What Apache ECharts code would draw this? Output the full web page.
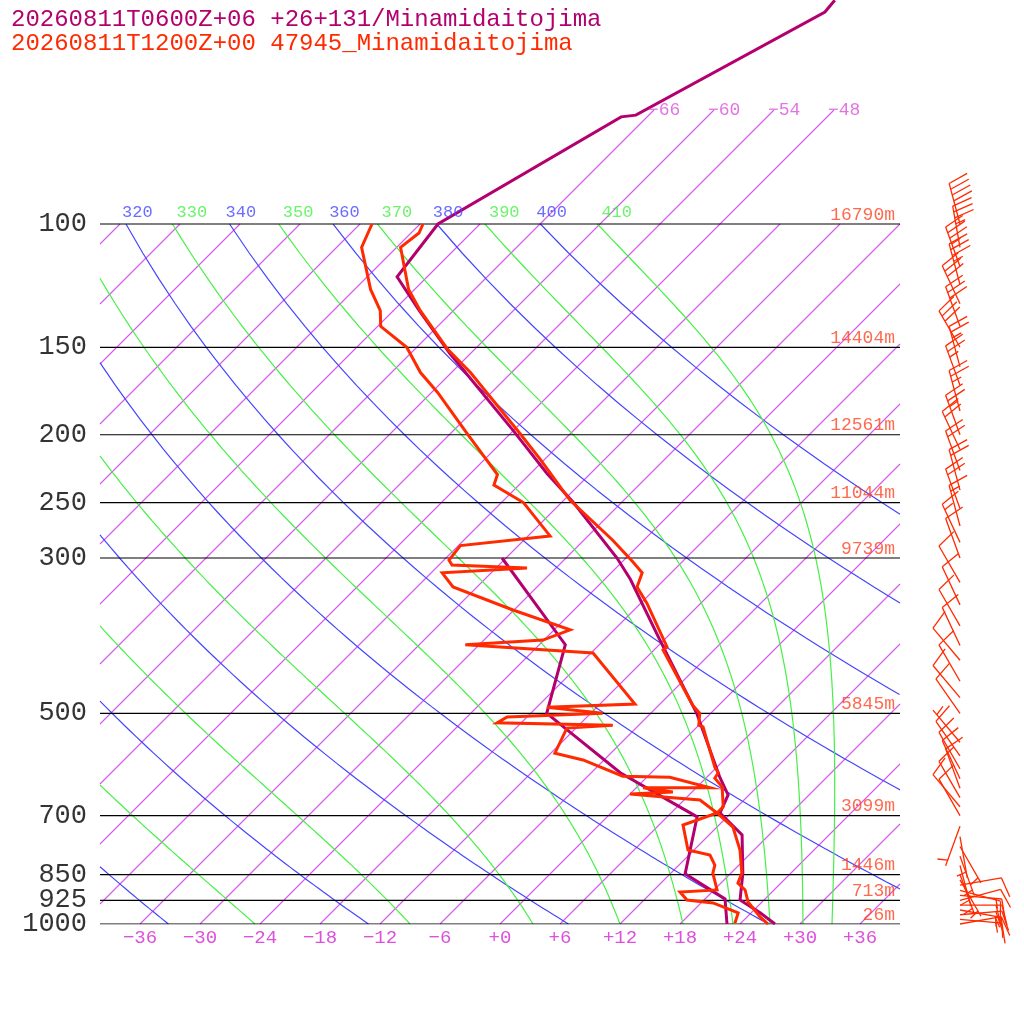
<!DOCTYPE html>
<html>
<head>
<meta charset="utf-8">
<script src="https://cdn.jsdelivr.net/npm/echarts@6/dist/echarts.min.js"></script>
<style>html,body{margin:0;padding:0;background:#fff}#main{width:1024px;height:1024px}</style>
</head>
<body>
<div id="main"></div>
<script>
// sounding 1 (magenta): pressure hPa / temperature C
var magT_p = [47.9, 49.8, 69.9, 70.3, 100, 119, 133, 153, 197, 227, 250, 300, 322, 393, 500, 617, 654, 694, 746, 846, 924, 964, 1000]
var magT_t = [-58.9, -58.7, -67.3, -68.6, -76.2, -75.0, -69.4, -62.1, -48.1, -40.4, -34.8, -24.9, -21.4, -12.4, -1.4, 7.3, 9.9, 10.9, 15.3, 19.2, 21.6, 24.9, 27.5]
var magD_p = [300, 399, 500, 528, 608, 703, 848, 921, 1000]
var magD_t = [-36.4, -21.4, -16.4, -12.7, -3.1, 9.0, 13.5, 20.0, 22.7]
// sounding 2 (red)
var redT_p = [100, 103, 108, 124, 133, 151, 163, 199, 217, 248, 283, 304, 315, 330, 348, 402, 406, 487, 500, 520, 523, 597, 608, 619, 637, 680, 694, 727, 784, 846, 874, 894, 930, 977, 1000]
var redT_t = [-77.7, -77.2, -77.6, -72.6, -69.3, -62.7, -58.1, -47.1, -42.4, -35.4, -27.1, -22.9, -20.9, -20.0, -17.4, -11.0, -11.1, -2.6, -1.1, 0, 0.6, 5.8, 6.7, 6.9, 8.5, 10.6, 10.6, 13.6, 16.6, 19.1, 19.7, 21.1, 22.6, 25.3, 26.8]
var redD_p = [100, 108, 124, 133, 140, 150, 163, 174, 199, 228, 236, 250, 279, 288, 302, 307, 310, 315, 330, 356, 380, 393, 399, 410, 485, 490, 500, 506, 516, 520, 525, 570, 583, 615, 617, 639, 639, 648, 652, 659, 665, 694, 722, 784, 797, 824, 846, 894, 900, 924, 933, 964, 997]
var redD_t = [-82.8, -81.5, -76.4, -73.3, -71.7, -67.0, -63.1, -59.4, -52.4, -45.2, -44.5, -39.8, -33.8, -41.8, -41.5, -40.7, -32.9, -40.9, -38.4, -30.1, -22.4, -24.1, -31.4, -17.8, -8.5, -17.0, -10.8, -20.0, -20.4, -8.6, -12.9, -11.6, -8.1, -2.5, 2.3, 7.4, 0.7, 4.1, 0, 4.0, 7.6, 10.6, 8.4, 11.4, 14.1, 15.6, 16.2, 18.3, 14.8, 16.3, 19.2, 22.7, 23.4]
// winds (red sounding)
var windP = [1000, 985, 970, 955, 940, 925, 910, 895, 880, 865, 850, 825, 800, 775, 750, 725, 700, 680, 660, 640, 620, 600, 575, 550, 500, 475, 450, 420, 400, 375, 350, 325, 300, 285, 270, 255, 240, 225, 210, 200, 185, 170, 160, 150, 140, 130, 122, 115, 108, 100]
var windDir = [80, 95, 85, 100, 90, 75, 95, 105, 80, 150, 160, 165, 160, 150, 170, 200, 330, 320, 330, 340, 335, 330, 325, 320, 325, 320, 330, 320, 335, 330, 335, 330, 340, 335, 345, 340, 345, 340, 335, 340, 345, 340, 345, 330, 340, 335, 345, 340, 350, 345]
var windSpd = [15, 15, 20, 15, 20, 12, 15, 10, 10, 8, 8, 6, 5, 6, 8, 6, 10, 12, 12, 14, 12, 10, 10, 8, 10, 12, 10, 10, 10, 12, 14, 10, 10, 15, 15, 20, 20, 20, 20, 25, 25, 25, 25, 30, 30, 30, 35, 35, 35, 40]
// axes labels
var pLevels = [100, 150, 200, 250, 300, 500, 700, 850, 925, 1000]
var heights = ['16790m', '14404m', '12561m', '11044m', '9739m', '5845m', '3099m', '1446m', '713m', '26m']
var tempTicks = [-36, -30, -24, -18, -12, -6, 0, 6, 12, 18, 24, 30, 36]
var isoT = [-114, -108, -102, -96, -90, -84, -78, -72, -66, -60, -54, -48, -42, -36, -30, -24, -18, -12, -6, 0, 6, 12, 18, 24, 30, 36]
var topIso = [-66, -60, -54, -48]
var dryTheta = [220, 240, 260, 280, 300, 320, 340, 360, 380, 400]
var dryLabels = [320, 340, 360, 380, 400]
var moistBaseT = [-24.5, -9, 3.3, 12, 18.3, 23.3, 27, 30.3, 33.2]   // at 1000 hPa
var moistTheta = [250, 270, 290, 310, 330, 350, 370, 390, 410]
var moistLabels = [330, 350, 370, 390, 410]

var SK = 30.4
var PMIN = 1000 * Math.exp(-924 / 304)
var MONO = 'Liberation Mono'
var BLUE = '#4646ff', GREEN = '#46f046', ISO = '#d458ec', MAG = '#b4006e', RED = '#ff2a00'

function L(p) { return SK * Math.log(1000 / p) }
function P(l) { return 1000 * Math.exp(-l / SK) }
function pts(ps, ts) { return ps.map(function(p, i) { return [ts[i] + L(p), p] }) }

// keep the parts of a polyline (X, l) inside the box, splitting where it leaves
function clip(line, x0, x1, l1) {
  var out = [], cur = []
  function inside(q) { return q[0] >= x0 && q[0] <= x1 && q[1] >= 0 && q[1] <= l1 }
  function edge(a, b) {
    var u = 0
    if (a[0] < x0) u = Math.max(u, (x0 - a[0]) / (b[0] - a[0]))
    if (a[0] > x1) u = Math.max(u, (a[0] - x1) / (a[0] - b[0]))
    if (a[1] < 0) u = Math.max(u, (0 - a[1]) / (b[1] - a[1]))
    if (a[1] > l1) u = Math.max(u, (a[1] - l1) / (a[1] - b[1]))
    return [a[0] + u * (b[0] - a[0]), a[1] + u * (b[1] - a[1])]
  }
  for (var i = 0; i < line.length; i++) {
    if (inside(line[i])) {
      if (!cur.length && i > 0) cur.push(edge(line[i - 1], line[i]))
      cur.push(line[i])
    } else if (cur.length) {
      cur.push(edge(line[i], line[i - 1])); out.push(cur); cur = []
    }
  }
  if (cur.length) out.push(cur)
  return out.map(function(seg) { return seg.map(function(q) { return [q[0], P(q[1])] }) })
}

function guide(data, color, w) {
  return { type: 'line', data: data, symbol: 'none', animation: false,
    itemStyle: { color: color }, lineStyle: { color: color, width: w || 1 }, z: 1 }
}

var series = []

// isotherms (45 degree lines)
isoT.forEach(function(t) {
  var lTop = topIso.indexOf(t) >= 0 ? 81.4 : 70
  var lA = Math.max(0, -40 - t), lB = Math.min(lTop, 40 - t)
  if (lB > lA) series.push(guide([[t + lA, P(lA)], [t + lB, P(lB)]], ISO, 1.1))
})

// dry adiabats
var topX = {}
dryTheta.forEach(function(th) {
  var line = []
  for (var p = 100; p <= 1000; p += 10) line.push([th * Math.pow(p / 1000, 0.2857) - 273.15 + L(p), L(p)])
  topX[th] = line[0][0]
  clip(line, -40, 40, 70).forEach(function(s) { series.push(guide(s, BLUE, 1.2)) })
})

// moist adiabats, integrated upward from 1000 hPa
function dTdp(p, T) {
  var tc = T - 273.15
  var es = 6.112 * Math.exp(17.67 * tc / (tc + 243.5))
  var rs = 0.622 * es / (p - es)
  return (287 * T + 2.5e6 * rs) / (1004 + 2.5e6 * 2.5e6 * rs * 0.622 / (287 * T * T)) / p
}
moistBaseT.forEach(function(t0, i) {
  var T = t0 + 273.15, p = 1000, line = [[t0, 0]]
  while (p > 100) {
    var dp = -5, k1 = dTdp(p, T), k2 = dTdp(p + dp, T + k1 * dp)
    T += (k1 + k2) / 2 * dp; p += dp
    line.push([T - 273.15 + L(p), L(p)])
  }
  topX[moistTheta[i]] = line[line.length - 1][0]
  clip(line, -40, 40, 70).forEach(function(s) { series.push(guide(s, GREEN, 1.2)) })
})

// pressure lines
pLevels.forEach(function(p) { series.push(guide([[-40, p], [40, p]], '#000', 1.2)) })

// soundings
function prof(d, c) {
  return { type: 'line', data: d, symbol: 'none', animation: false, z: 5,
    itemStyle: { color: c }, lineStyle: { color: c, width: 3, join: 'miter' } }
}
series.push(prof(pts(magT_p, magT_t), MAG))
series.push(prof(pts(magD_p, magD_t), MAG))
series.push(prof(pts(redT_p, redT_t), RED))
series.push(prof(pts(redD_p, redD_t), RED))

// text labels
function texts(items, color, size, align, vAlign) {
  return { type: 'scatter', symbolSize: 0, silent: true, animation: false, z: 6,
    data: items.map(function(it) { return { value: [it[0], it[1]], label: { formatter: it[2] } } }),
    label: { show: true, position: 'inside', color: color, fontFamily: MONO, fontSize: size,
      align: align, verticalAlign: vAlign } }
}
series.push(texts(pLevels.map(function(p) { return [-41.3, p, String(p)] }), '#000', 27, 'right', 'middle'))
series.push(texts(pLevels.map(function(p, i) { return [39.5, p, heights[i]] }), '#ff4422', 18, 'right', 'bottom'))
var pLab = P((924 - 212) / 10)
series.push(texts(dryLabels.map(function(v) { return [topX[v] - 0.4, pLab, String(v)] }), BLUE, 17, 'left', 'middle'))
series.push(texts(moistLabels.map(function(v) { return [topX[v] + 0.4, pLab, String(v)] }), GREEN, 17, 'left', 'middle'))
var lIso = (924 - 110) / 10
series.push(texts(topIso.map(function(t) { return [t + lIso - 0.6, P(lIso), '\u2212' + (-t)] }), '#dc50dc', 18, 'left', 'middle'))

// wind barbs
series.push({
  type: 'custom', animation: false, z: 7, clip: false,
  data: windP.map(function(p, i) { return [46, p, windDir[i], windSpd[i]] }),
  renderItem: function(params, api) {
    var b = api.coord([api.value(0), api.value(1)])
    var d = api.value(2) * Math.PI / 180, spd = api.value(3)
    var sx = Math.sin(d), sy = -Math.cos(d), fx = -sy, fy = sx
    var tip = [b[0] + sx * 42, b[1] + sy * 42]
    var kids = [{ type: 'line', shape: { x1: b[0], y1: b[1], x2: tip[0], y2: tip[1] } }]
    var n = Math.floor(spd / 10), half = (spd % 10) >= 5, pos = 0
    for (var k = 0; k < n; k++) {
      var o = [tip[0] - sx * pos, tip[1] - sy * pos]
      kids.push({ type: 'line', shape: { x1: o[0], y1: o[1], x2: o[0] + fx * 20 + sx * 5, y2: o[1] + fy * 20 + sy * 5 } })
      pos += 6
    }
    if (half) {
      if (n === 0) pos = 6
      var o2 = [tip[0] - sx * pos, tip[1] - sy * pos]
      kids.push({ type: 'line', shape: { x1: o2[0], y1: o2[1], x2: o2[0] + fx * 10 + sx * 2.5, y2: o2[1] + fy * 10 + sy * 2.5 } })
    }
    return { type: 'group', children: kids.map(function(c) { c.style = { stroke: RED, lineWidth: 1.3 }; return c }) }
  }
})

var myChart = echarts.init(document.getElementById('main'))
myChart.setOption({
  backgroundColor: '#fff',
  animation: false,
  title: [
    { text: '20260811T0600Z+06 +26+131/Minamidaitojima', left: 6, top: 3,
      textStyle: { color: MAG, fontFamily: MONO, fontSize: 24, fontWeight: 'normal' } },
    { text: '20260811T1200Z+00 47945_Minamidaitojima', left: 6, top: 27,
      textStyle: { color: RED, fontFamily: MONO, fontSize: 24, fontWeight: 'normal' } }
  ],
  grid: { left: 0, right: 0, top: 0, bottom: 100, containLabel: false, outerBoundsMode: 'none' },
  xAxis: { type: 'value', min: -50, max: 52.4, splitLine: { show: false },
    axisLine: { show: false }, axisTick: { show: false },
    axisLabel: { customValues: tempTicks, margin: 4, color: '#dc50dc', fontFamily: MONO, fontSize: 19,
      formatter: function(v) { return v < 0 ? '\u2212' + (-v) : '+' + v } } },
  yAxis: { type: 'log', min: PMIN, max: 1000, inverse: true, show: false },
  series: series
})
</script>
</body>
</html>
